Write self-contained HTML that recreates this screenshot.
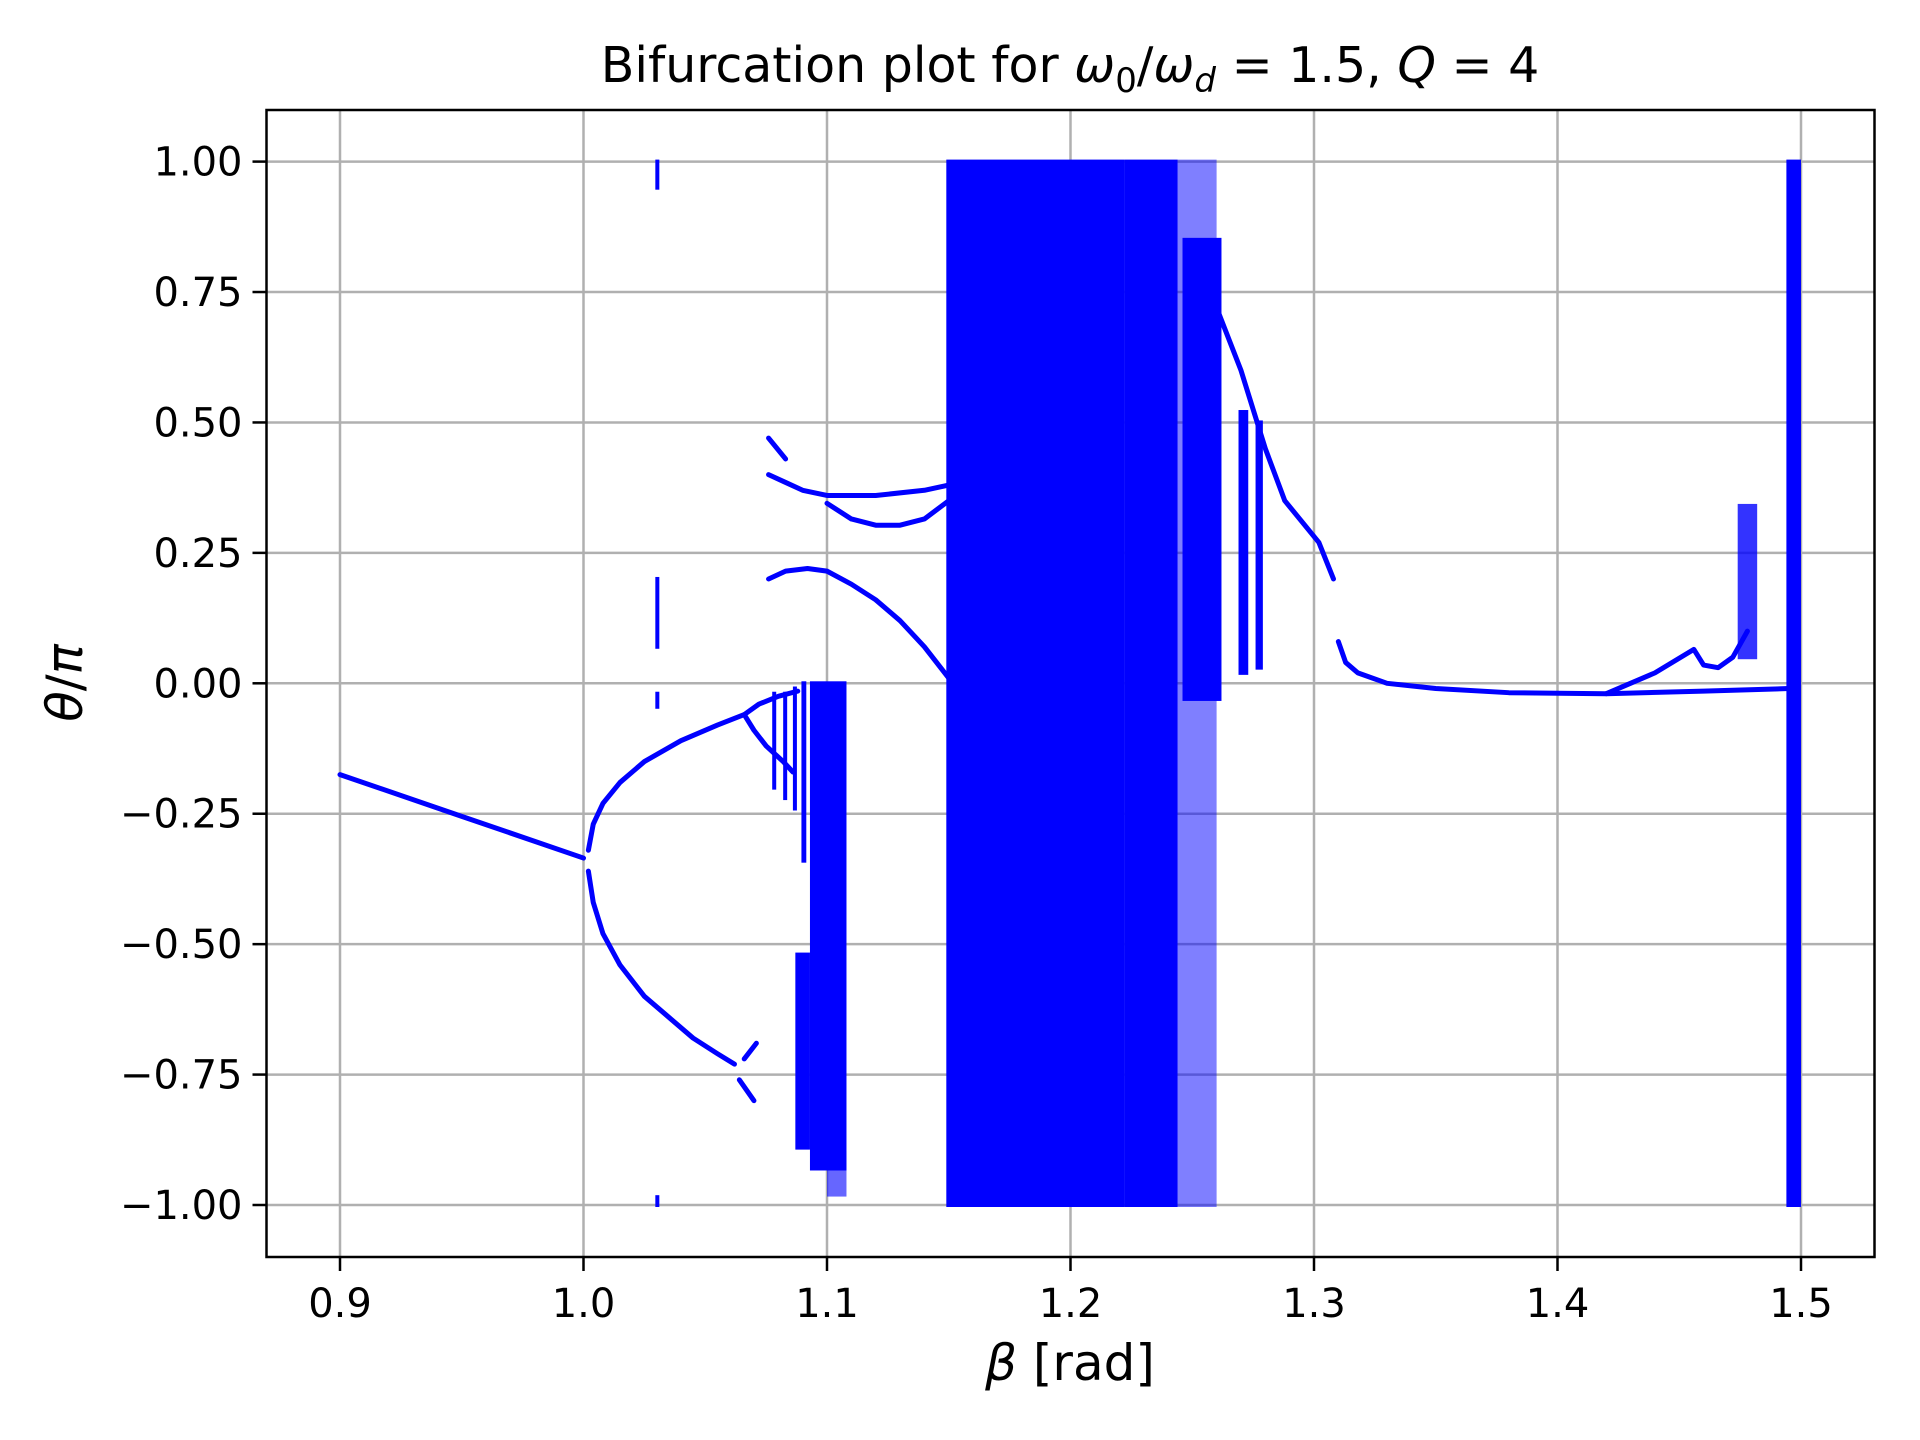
<!DOCTYPE html>
<html><head><meta charset="utf-8"><style>
body{margin:0;background:#fff;}
svg{display:block;font-family:"DejaVu Sans","Liberation Sans",sans-serif;}
</style></head><body>
<svg id="chart" width="1920" height="1440" viewBox="0 0 1920 1440" xmlns="http://www.w3.org/2000/svg">
<rect width="1920" height="1440" fill="#fff"/>
<g id="grid"></g>
<g id="marks"></g>
<rect x="266.5" y="110" width="1608" height="1147" fill="none" stroke="#000" stroke-width="2.5"/>
<g id="ticks"></g>
<text x="1070" y="82" font-size="49" text-anchor="middle">Bifurcation plot for <tspan font-style="italic">ω</tspan><tspan font-size="34" dy="10">0</tspan><tspan dy="-10">/</tspan><tspan font-style="italic">ω</tspan><tspan font-size="34" dy="10" font-style="italic">d</tspan><tspan dy="-10"> = 1.5, </tspan><tspan font-style="italic">Q</tspan> = 4</text>
<text x="1070" y="1380" font-size="50" text-anchor="middle"><tspan font-style="italic">β</tspan> [rad]</text>
<text transform="translate(82,683) rotate(-90)" font-size="50" text-anchor="middle"><tspan font-style="italic">θ</tspan>/<tspan font-style="italic">π</tspan></text>
</svg>
<script>
const xTicks=[0.9,1.0,1.1,1.2,1.3,1.4,1.5];
const xTickLabels=["0.9","1.0","1.1","1.2","1.3","1.4","1.5"];
const yTicks=[1,0.75,0.5,0.25,0,-0.25,-0.5,-0.75,-1];
const yTickLabels=["1.00","0.75","0.50","0.25","0.00","\u22120.25","\u22120.50","\u22120.75","\u22121.00"];
const curveMain=[[0.9,-0.175],[0.95,-0.255],[1.0,-0.335]];
const curveUpper=[[1.002,-0.32],[1.004,-0.27],[1.008,-0.23],[1.015,-0.19],[1.025,-0.15],[1.04,-0.11],[1.055,-0.08],[1.066,-0.06],[1.072,-0.04],[1.08,-0.025],[1.088,-0.015]];
const curveUpperLow=[[1.066,-0.06],[1.07,-0.09],[1.075,-0.12],[1.082,-0.15],[1.086,-0.17]];
const curveLower=[[1.002,-0.36],[1.004,-0.42],[1.008,-0.48],[1.015,-0.54],[1.025,-0.6],[1.035,-0.64],[1.045,-0.68],[1.055,-0.71],[1.062,-0.73]];
const curveX1=[[1.066,-0.72],[1.071,-0.69]];
const curveX2=[[1.064,-0.76],[1.07,-0.8]];
const curveArcTop=[[1.076,0.47],[1.083,0.43]];
const curveArcMid=[[1.076,0.40],[1.083,0.385],[1.09,0.37],[1.1,0.36],[1.12,0.36],[1.14,0.37],[1.15,0.38]];
const curveDip=[[1.1,0.345],[1.11,0.315],[1.12,0.303],[1.13,0.303],[1.14,0.315],[1.15,0.35]];
const curveHump=[[1.076,0.2],[1.083,0.215],[1.092,0.22],[1.1,0.215],[1.11,0.19],[1.12,0.16],[1.13,0.12],[1.14,0.07],[1.15,0.01]];
const curveRight=[[1.26,0.72],[1.27,0.6],[1.28,0.45],[1.288,0.35],[1.295,0.31],[1.302,0.27],[1.308,0.2]];
const curveTail=[[1.31,0.08],[1.313,0.04],[1.318,0.02],[1.33,0.0],[1.35,-0.01],[1.38,-0.018],[1.42,-0.02],[1.46,-0.015],[1.495,-0.01]];
const curveBranch=[[1.42,-0.02],[1.44,0.02],[1.456,0.065],[1.46,0.035],[1.466,0.03],[1.472,0.05],[1.478,0.1]];
const curves=[curveMain,curveUpper,curveUpperLow,curveLower,curveX1,curveX2,curveArcTop,curveArcMid,curveDip,curveHump,curveRight,curveTail,curveBranch];
// bands: [betaStart, betaEnd, thetaMin, thetaMax, density]
const bands=[[1.0295,1.0305,0.95,1.0,1],[1.0295,1.0305,0.07,0.2,1],[1.0295,1.0305,-0.045,-0.02,1],[1.0295,1.0305,-1.0,-0.985,1],
[1.0775,1.0785,-0.2,-0.02,1],[1.082,1.083,-0.22,-0.02,1],[1.086,1.087,-0.24,-0.01,1],[1.0895,1.0915,-0.34,0.0,1],
[1.093,1.108,-0.93,0.0,1],[1.087,1.093,-0.89,-0.52,1],[1.1,1.108,-0.98,-0.9,0.6],
[1.149,1.222,-1.0,1.0,1],[1.222,1.244,-1.0,1.0,1],[1.246,1.262,-0.03,0.85,1],[1.244,1.26,-1.0,1.0,0.5],
[1.269,1.273,0.02,0.52,1],[1.276,1.279,0.03,0.5,1],
[1.474,1.482,0.05,0.34,0.8],[1.494,1.5,-1.0,1.0,1]];
const ns="http://www.w3.org/2000/svg";
const X0=266.5,X1=1874.5,Y0=110,Y1=1257;
function xs(b){return 340+(b-0.9)*2435;}
function ys(t){return 683.3-t*521.7;}
const grid=document.getElementById('grid'),ticks=document.getElementById('ticks'),marks=document.getElementById('marks');
xTicks.forEach((v,i)=>{
 const x=xs(v);
 const l=document.createElementNS(ns,'line');
 
 
 l.setAttribute('x1',x);l.setAttribute('x2',x);l.setAttribute('y1',Y0);l.setAttribute('y2',Y1);l.setAttribute('stroke','#b0b0b0');l.setAttribute('stroke-width','2.5');grid.appendChild(l);
 const t=document.createElementNS(ns,'line');
 
 
 t.setAttribute('x1',x);t.setAttribute('x2',x);t.setAttribute('y1',Y1);t.setAttribute('y2',Y1+14);t.setAttribute('stroke','#000');t.setAttribute('stroke-width','2.5');ticks.appendChild(t);
 const tx=document.createElementNS(ns,'text');
 
 
 tx.setAttribute('x',x);tx.setAttribute('y',1317);tx.setAttribute('font-size','40');tx.setAttribute('text-anchor','middle');tx.textContent=xTickLabels[i];ticks.appendChild(tx);
});
yTicks.forEach((v,i)=>{
 const y=ys(v);
 const l=document.createElementNS(ns,'line');
 
 
 l.setAttribute('x1',X0);l.setAttribute('x2',X1);l.setAttribute('y1',y);l.setAttribute('y2',y);l.setAttribute('stroke','#b0b0b0');l.setAttribute('stroke-width','2.5');grid.appendChild(l);
 const t=document.createElementNS(ns,'line');
 
 
 t.setAttribute('x1',X0-14);t.setAttribute('x2',X0);t.setAttribute('y1',y);t.setAttribute('y2',y);t.setAttribute('stroke','#000');t.setAttribute('stroke-width','2.5');ticks.appendChild(t);
 const tx=document.createElementNS(ns,'text');
 
 
 tx.setAttribute('x',X0-24);tx.setAttribute('y',y+14);tx.setAttribute('font-size','40');tx.setAttribute('text-anchor','end');tx.textContent=yTickLabels[i];ticks.appendChild(tx);
});
bands.forEach(b=>{
 const r=document.createElementNS(ns,'rect');
 
 
 const x=xs(b[0]),w=Math.max(4,xs(b[1])-x);
 r.setAttribute('x',x);r.setAttribute('y',ys(b[3])-2);r.setAttribute('width',w);r.setAttribute('height',ys(b[2])-ys(b[3])+4);r.setAttribute('fill','#0000ff');r.setAttribute('fill-opacity',b[4]);marks.appendChild(r);
});
curves.forEach(c=>{
 const p=document.createElementNS(ns,'polyline');
 
 
 p.setAttribute('points',c.map(d=>xs(d[0])+','+ys(d[1])).join(' '));
 p.setAttribute('fill','none');p.setAttribute('stroke','#0000ff');p.setAttribute('stroke-width','5');p.setAttribute('stroke-linecap','round');p.setAttribute('stroke-linejoin','round');marks.appendChild(p);
});
</script>
</body></html>
